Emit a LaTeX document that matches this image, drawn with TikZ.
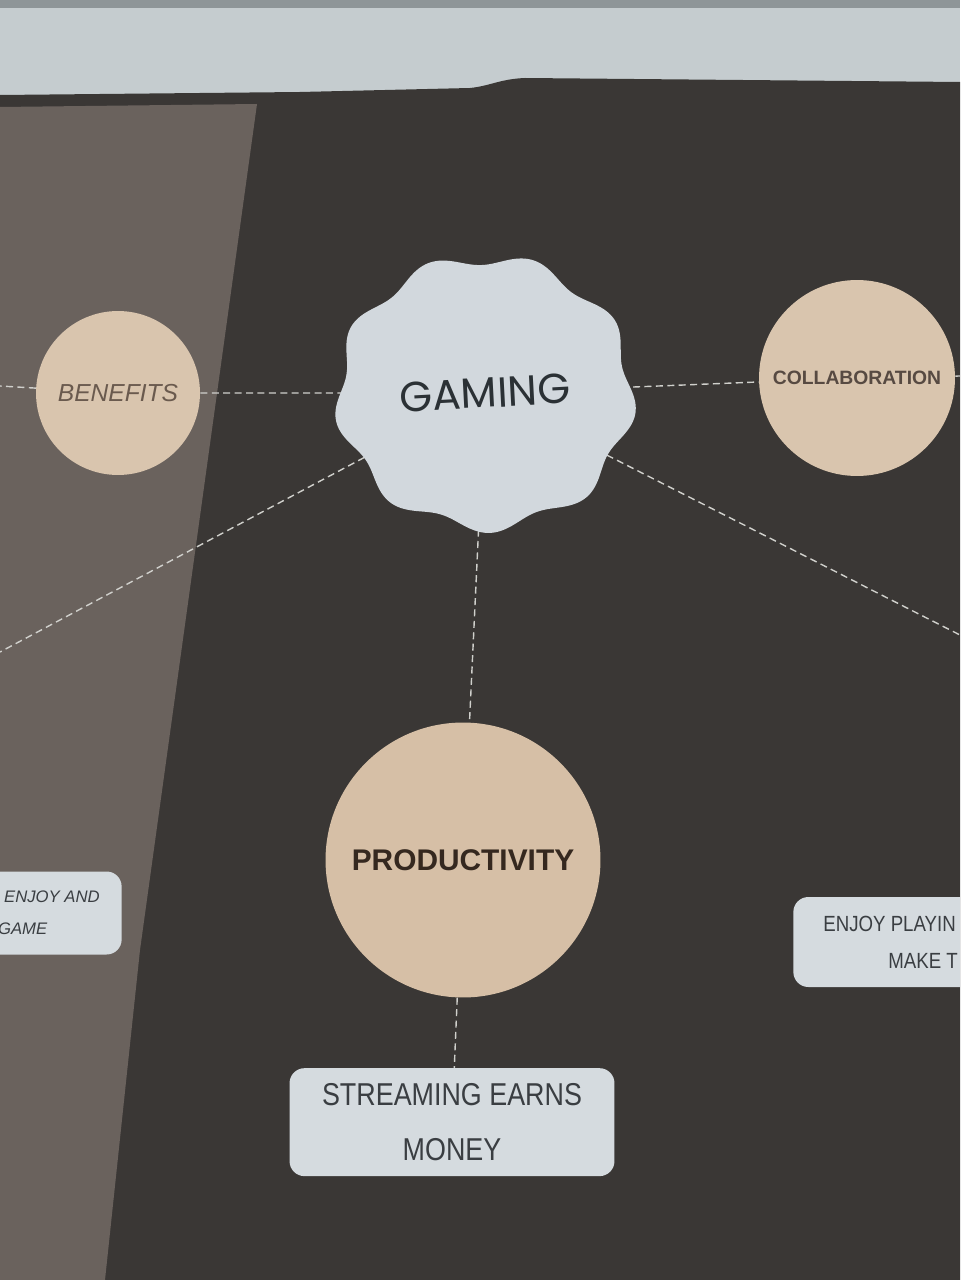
\documentclass[tikz,border=0pt]{standalone}
\usepackage{fontspec}
\setmainfont{Liberation Sans}
\newfontfamily\roundfont{Poppins}
\newfontfamily\narrowfont[FakeStretch=0.85]{Liberation Sans}
\usetikzlibrary{positioning}

\definecolor{paper}{HTML}{C5CCCF}
\definecolor{papertop}{HTML}{8E9598}
\definecolor{sheet}{HTML}{3A3735}
\definecolor{panel}{HTML}{6A625D}
\definecolor{tan}{HTML}{D9C5AE}
\definecolor{prodtan}{HTML}{D6BFA6}
\definecolor{blobcol}{HTML}{D2D8DD}
\definecolor{cardcol}{HTML}{D5DBDF}
\definecolor{linkcol}{HTML}{D0D0CC}
\definecolor{benefittext}{HTML}{6A5A4E}
\definecolor{collabtext}{HTML}{574A42}
\definecolor{prodtext}{HTML}{35281F}
\definecolor{gamingtext}{HTML}{2B3135}
\definecolor{cardtext}{HTML}{3A3E42}

\pgfdeclarelayer{bg}
\pgfdeclarelayer{links}
\pgfsetlayers{bg,links,main}

\tikzset{
  bubble/.style={circle, fill=tan, inner sep=0pt},
  card/.style={rectangle, rounded corners=0.3cm, fill=cardcol, text=cardtext},
  link/.style={draw=linkcol, line width=0.8pt, dash pattern=on 4pt off 2.5pt},
}

\begin{document}
\begin{tikzpicture}[x=0.02cm,y=-0.02cm]
\useasboundingbox (0,0) rectangle (960,1280);
\clip (0,0) rectangle (960,1280);

%paper, dark sheet and the lighter side panel
\begin{pgfonlayer}{bg}
\fill[paper] (0,0) rectangle (960,1280);
\fill[papertop] (0,0) rectangle (960,8);
\fill[sheet] (0,95) -- (300,92) -- (470,88) .. controls (490,86) and (500,79) .. (525,78)
  -- (960,82) -- (960,1280) -- (0,1280) -- cycle;
\fill[panel] (0,107) -- (257,104) -- (140,950) -- (105,1280) -- (0,1280) -- cycle;
\end{pgfonlayer}

%wavy badge behind the centre word
\coordinate (gc) at (485,393);
\fill[blobcol, shift={(gc)}] plot[smooth cycle, domain=0:358, samples=180]
  ({(146+6*sin(9*\x+15))*cos(\x)}, {(134+6*sin(9*\x+15))*sin(\x)});

%bubbles
\node[circle, minimum size=5cm, rotate=3, text=gamingtext,
  font=\roundfont\fontsize{24}{28}\selectfont] (gaming) at (gc) {GAMING};
\node[bubble, minimum size=3.28cm, text=benefittext,
  font=\itshape\fontsize{14}{16}\selectfont] (benefits) at (118,393) {BENEFITS};
\node[bubble, minimum size=3.92cm, text=collabtext,
  font=\bfseries\fontsize{11}{13}\selectfont] (collab) at (857,378) {COLLABORATION};
\node[bubble, fill=prodtan, minimum size=5.5cm, text=prodtext,
  font=\bfseries\fontsize{17}{20}\selectfont] (prod) at (463,860) {PRODUCTIVITY};

%cards
\node[card, minimum width=6.5cm, minimum height=2.16cm, below=1.4cm of prod, xshift=-0.22cm,
  align=center, font=\narrowfont\fontsize{18}{31}\selectfont] (stream) {STREAMING EARNS\\MONEY};
\node[card, anchor=east, minimum height=1.66cm, inner xsep=0.44cm, align=left,
  font=\itshape\fontsize{9.5}{18}\selectfont] (enjoyleft) at (122,913) {ENJOY AND\\\hspace*{-0.12cm}GAME};
\node[card, anchor=west, minimum height=1.8cm, inner xsep=0.6cm, align=left,
  font=\narrowfont\fontsize{12.5}{21}\selectfont] (enjoyright) at (793,942) {ENJOY PLAYIN\\\hspace*{1.3cm}MAKE T};

%free ends at the page edges
\coordinate (bfree) at (0,386);
\coordinate (cfree) at (960,376);
\coordinate (ll) at (0,652);
\coordinate (lr) at (960,635);

%dashed links
\begin{pgfonlayer}{links}
\draw[link] (benefits) -- (bfree);
\draw[link] (benefits) -- (gaming);
\draw[link] (gaming) -- (collab);
\draw[link] (collab) -- (cfree);
\draw[link] (gaming) -- (ll);
\draw[link] (gaming) -- (lr);
\draw[link] (gaming) -- (prod);
\draw[link] (prod) -- (stream);
\end{pgfonlayer}
\end{tikzpicture}
\end{document}
